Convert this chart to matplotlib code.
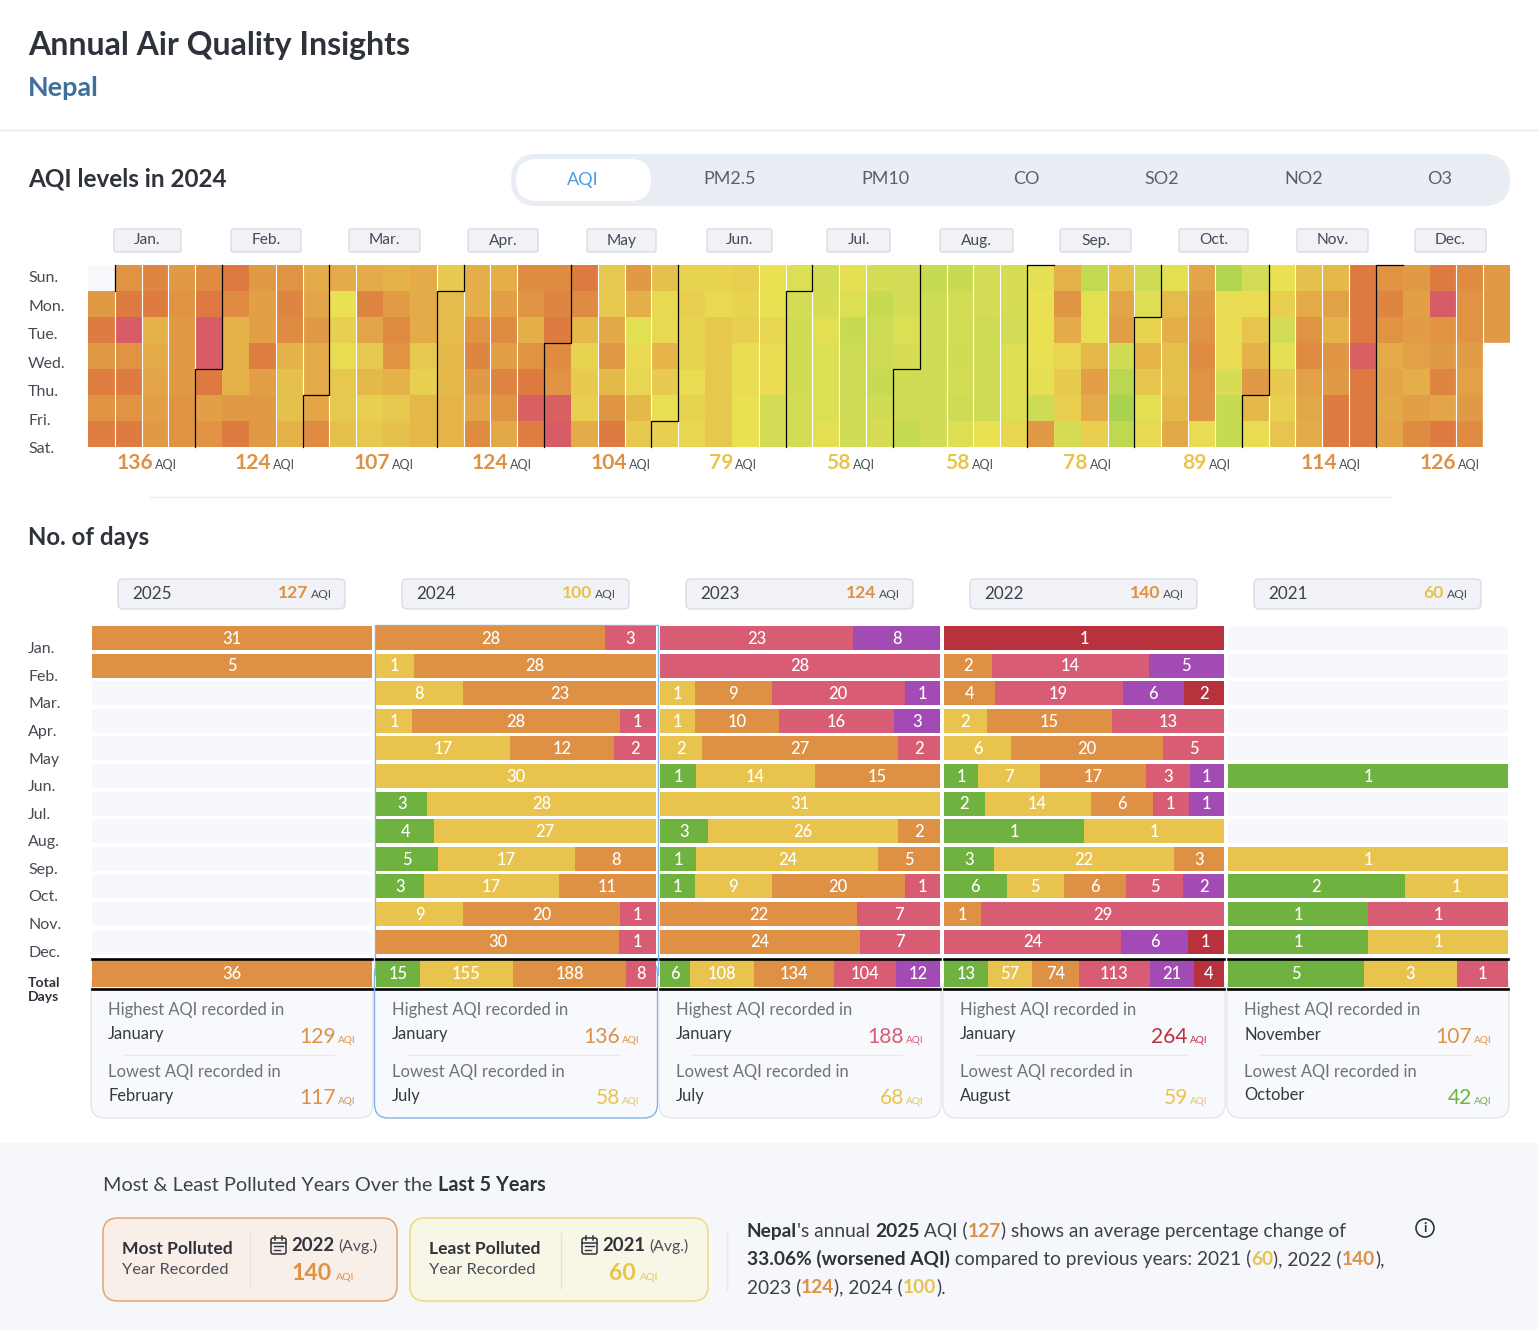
import datetime
import numpy as np
import matplotlib
matplotlib.use("Agg")
import matplotlib.pyplot as plt
from matplotlib.colors import LinearSegmentedColormap, Normalize
from matplotlib.patches import FancyBboxPatch, Rectangle, Circle

plt.rcParams['font.family'] = ['Lato', 'DejaVu Sans']

W, H = 1538, 1330

### data
day_labels = ['Sun.', 'Mon.', 'Tue.', 'Wed.', 'Thu.', 'Fri.', 'Sat.']
month_labels = ['Jan.', 'Feb.', 'Mar.', 'Apr.', 'May', 'Jun.', 'Jul.', 'Aug.', 'Sep.', 'Oct.', 'Nov.', 'Dec.']
month_aqi = [136, 124, 107, 124, 104, 79, 58, 58, 78, 89, 114, 126]
tabs = ['AQI', 'PM2.5', 'PM10', 'CO', 'SO2', 'NO2', 'O3']

# one row per week, Sun..Sat, estimated AQI of the day
week_aqi = [
    [np.nan, 125, 148, 125, 145, 130, 145],
    [130, 148, 175, 130, 148, 130, 148],
    [140, 148, 105, 110, 115, 120, 125],
    [125, 130, 125, 125, 125, 130, 130],
    [135, 150, 175, 175, 150, 120, 130],
    [150, 135, 105, 105, 105, 125, 148],
    [125, 120, 120, 145, 120, 125, 125],
    [130, 140, 135, 105, 95, 95, 105],
    [110, 115, 125, 110, 110, 115, 135],
    [110, 72, 85, 75, 90, 90, 95],
    [110, 140, 115, 90, 100, 85, 90],
    [105, 122, 135, 130, 105, 90, 95],
    [110, 110, 110, 90, 85, 100, 100],
    [88, 98, 98, 100, 100, 102, 102],
    [108, 108, 130, 140, 125, 115, 135],
    [108, 120, 135, 120, 140, 130, 112],
    [135, 130, 108, 130, 148, 172, 145],
    [135, 140, 148, 135, 130, 172, 175],
    [148, 135, 100, 82, 88, 85, 110],
    [90, 90, 112, 125, 100, 128, 148],
    [125, 108, 68, 78, 80, 100, 90],
    [95, 78, 78, 102, 88, 73, 85],
    [82, 85, 82, 82, 75, 82, 80],
    [82, 78, 90, 90, 90, 90, 90],
    [85, 82, 85, 75, 75, 72, 72],
    [72, 72, 80, 75, 75, 60, 60],
    [65, 60, 58, 58, 58, 60, 60],
    [60, 62, 68, 65, 65, 65, 68],
    [70, 65, 52, 55, 55, 55, 58],
    [62, 50, 55, 56, 50, 58, 62],
    [60, 60, 65, 62, 58, 55, 50],
    [50, 56, 56, 55, 58, 58, 58],
    [52, 60, 60, 58, 60, 56, 66],
    [60, 60, 56, 58, 58, 55, 72],
    [62, 62, 60, 66, 66, 66, 80],
    [70, 72, 72, 72, 70, 55, 125],
    [105, 128, 110, 80, 88, 85, 62],
    [48, 68, 70, 100, 120, 110, 85],
    [95, 115, 120, 58, 42, 32, 45],
    [55, 66, 82, 102, 92, 68, 78],
    [68, 98, 108, 95, 95, 100, 112],
    [115, 125, 130, 135, 130, 128, 75],
    [38, 75, 75, 75, 62, 50, 50],
    [60, 75, 92, 105, 125, 100, 75],
    [72, 85, 60, 70, 88, 85, 92],
    [95, 110, 130, 135, 118, 112, 110],
    [100, 118, 105, 128, 125, 148, 148],
    [150, 150, 150, 172, 150, 150, 150],
    [130, 140, 130, 110, 115, 112, 115],
    [125, 120, 122, 118, 108, 120, 135],
    [148, 175, 130, 125, 140, 115, 148],
    [135, 130, 130, 122, 118, 125, 135],
    [125, 125, 125, np.nan, np.nan, np.nan, np.nan],
]

# days per level: good, moderate, sensitive, unhealthy, very unhealthy, hazardous
days_2025 = [[0, 0, 31, 0, 0, 0], [0, 0, 5, 0, 0, 0]] + [[0] * 6] * 10
total_2025 = [0, 0, 36, 0, 0, 0]
days_2024 = [
    [0, 0, 28, 3, 0, 0], [0, 1, 28, 0, 0, 0], [0, 8, 23, 0, 0, 0], [0, 1, 28, 1, 0, 0],
    [0, 17, 12, 2, 0, 0], [0, 30, 0, 0, 0, 0], [3, 28, 0, 0, 0, 0], [4, 27, 0, 0, 0, 0],
    [5, 17, 8, 0, 0, 0], [3, 17, 11, 0, 0, 0], [0, 9, 20, 1, 0, 0], [0, 0, 30, 1, 0, 0],
]
total_2024 = [15, 155, 188, 8, 0, 0]
days_2023 = [
    [0, 0, 0, 23, 8, 0], [0, 0, 0, 28, 0, 0], [0, 1, 9, 20, 1, 0], [0, 1, 10, 16, 3, 0],
    [0, 2, 27, 2, 0, 0], [1, 14, 15, 0, 0, 0], [0, 31, 0, 0, 0, 0], [3, 26, 2, 0, 0, 0],
    [1, 24, 5, 0, 0, 0], [1, 9, 20, 1, 0, 0], [0, 0, 22, 7, 0, 0], [0, 0, 24, 7, 0, 0],
]
total_2023 = [6, 108, 134, 104, 12, 0]
days_2022 = [
    [0, 0, 0, 0, 0, 1], [0, 0, 2, 14, 5, 0], [0, 0, 4, 19, 6, 2], [0, 2, 15, 13, 0, 0],
    [0, 6, 20, 5, 0, 0], [1, 7, 17, 3, 1, 0], [2, 14, 6, 1, 1, 0], [1, 1, 0, 0, 0, 0],
    [3, 22, 3, 0, 0, 0], [6, 5, 6, 5, 2, 0], [0, 0, 1, 29, 0, 0], [0, 0, 0, 24, 6, 1],
]
total_2022 = [13, 57, 74, 113, 21, 4]
days_2021 = [[0] * 6] * 5 + [
    [1, 0, 0, 0, 0, 0], [0] * 6, [0] * 6, [0, 1, 0, 0, 0, 0],
    [2, 1, 0, 0, 0, 0], [1, 0, 0, 1, 0, 0], [1, 1, 0, 0, 0, 0],
]
total_2021 = [5, 3, 0, 1, 0, 0]

years = [2025, 2024, 2023, 2022, 2021]
year_days = [days_2025, days_2024, days_2023, days_2022, days_2021]
year_totals = [total_2025, total_2024, total_2023, total_2022, total_2021]
year_aqi = [127, 100, 124, 140, 60]
high_month = ['January', 'January', 'January', 'January', 'November']
high_aqi = [129, 136, 188, 264, 107]
low_month = ['February', 'July', 'July', 'August', 'October']
low_aqi = [117, 58, 68, 59, 42]

### styles
level_colors = ['#6fb23f', '#e8c44e', '#de9044', '#d85c74', '#a24bb5', '#b8323e']
DARK = '#2e323a'
GREY = '#6d717a'
AQI_DARK = '#4a4e57'
heat_stops = [(30, '#a6d24f'), (50, '#c6da52'), (60, '#d3dd55'), (72, '#e9e052'), (85, '#e8cf50'),
              (100, '#e5b84a'), (115, '#e3a547'), (130, '#df9343'), (148, '#de7b40'),
              (158, '#dd7443'), (175, '#d85c66')]


def level_color(v):
    if v <= 50:
        return level_colors[0]
    if v <= 100:
        return level_colors[1]
    if v <= 150:
        return level_colors[2]
    if v <= 200:
        return level_colors[3]
    return level_colors[5]


def px_box(x0, y0, x1, y1):
    return [x0 / W, 1 - y1 / H, (x1 - x0) / W, (y1 - y0) / H]


fig = plt.figure(figsize=(W / 100, H / 100), dpi=100, facecolor='white')
page = fig.add_axes([0, 0, 1, 1], zorder=0)
page.set_xlim(0, W)
page.set_ylim(H, 0)
page.axis('off')
renderer = fig.canvas.get_renderer()


def txt(x, y, s, size, color=DARK, weight='normal', ha='left', va='center', zorder=5):
    if va == 'center':
        y += 1
    if ha == 'left':
        x -= 0.8
    return page.text(x, y, s, fontsize=size * 0.72, color=color, fontweight=weight,
                     ha=ha, va=va, zorder=zorder)


def text_width(s, size, weight):
    # the bar keeps trailing spaces in the measure
    a = txt(0, 0, s + '|', size, weight=weight)
    b = txt(0, 0, '|', size, weight=weight)
    w = a.get_window_extent(renderer).width - b.get_window_extent(renderer).width
    a.remove()
    b.remove()
    return w


def rich(x, y, parts, size):
    for s, weight, color in parts:
        txt(x, y, s, size, color=color, weight=weight, va='baseline')
        x += text_width(s, size, weight)


def box(x0, y0, x1, y1, fc, ec='none', r=4, lw=1.0, zorder=1):
    page.add_patch(FancyBboxPatch((x0, y0), x1 - x0, y1 - y0, boxstyle='round,pad=0,rounding_size=%g' % r,
                                  fc=fc, ec=ec, lw=lw, zorder=zorder))


### header
txt(29, 44, 'Annual Air Quality Insights', 32, weight='bold')
txt(29, 87, 'Nepal', 27, color='#3f6f9c', weight='bold')
page.plot([0, W], [130, 130], color='#e6e7eb', lw=1)
txt(29, 178, 'AQI levels in 2024', 24.3, weight='bold')

box(511, 154, 1510, 206, '#e9eef5', r=26)
box(516, 159, 651, 201, 'white', r=21, zorder=2)
tab_x = [583, 730, 885, 1026, 1162, 1304, 1440]
for x, s in zip(tab_x, tabs):
    txt(x, 178.5, s, 18, color='#4a9be8' if s == 'AQI' else '#5a5f69', ha='center')

### calendar heatmap
grid = np.ma.masked_invalid(np.array(week_aqi).T)
stops = [(v - heat_stops[0][0]) / (heat_stops[-1][0] - heat_stops[0][0]) for v, c in heat_stops]
cmap = LinearSegmentedColormap.from_list('aqi', list(zip(stops, [c for v, c in heat_stops])))
cmap.set_bad('#f8f9fc')

ax_hm = fig.add_axes(px_box(88, 265, 1510, 447), zorder=2)
ax_hm.pcolormesh(np.arange(54), np.arange(8), grid, cmap=cmap,
                 norm=Normalize(heat_stops[0][0], heat_stops[-1][0]), shading='flat')
ax_hm.set_xlim(0, 53)
ax_hm.set_ylim(7, 0)
ax_hm.axis('off')
ax_hm.add_patch(Rectangle((52, 3), 1, 4, fc='white', ec='white', zorder=2))
for k in [1, 2, 3, 4, 7, 8, 9, 10, 13, 14, 15, 16, 19, 20, 21, 22, 25, 26, 27, 28, 29, 32, 33, 34,
          38, 39, 40, 41, 42, 44, 45, 46, 47, 51, 52]:
    ax_hm.plot([k, k], [0, 7 if k < 52 else 3], color='white', lw=0.8, zorder=3)

# month borders follow the 2024 calendar
first_sunday = datetime.date(2023, 12, 31)
ax_hm.plot([1, 1], [0, 1], color='black', lw=0.9, zorder=4, clip_on=False)
for m in range(2, 13):
    d = datetime.date(2024, m, 1)
    col = (d - first_sunday).days // 7
    row = (d.weekday() + 1) % 7
    ax_hm.plot([col + 1, col + 1, col, col], [0, row, row, 7], color='black', lw=0.9,
               zorder=4, clip_on=False, solid_joinstyle='miter')

day_y = [277, 306, 334, 363, 391, 420, 448]
for y, s in zip(day_y, day_labels):
    txt(29, y, s, 16, color='#454a53')

chip_x0 = [114, 231, 349, 468, 587, 707, 827, 940, 1060, 1179, 1297, 1415]
chip_x1 = [181, 301, 420, 538, 656, 772, 890, 1013, 1131, 1248, 1368, 1486]
aqi_x = [155, 273, 392, 510, 629, 735, 853, 972, 1090, 1209, 1339, 1458]
for x0, x1, ax_x, s, v in zip(chip_x0, chip_x1, aqi_x, month_labels, month_aqi):
    box(x0, 229, x1, 252, '#f1f2f8', ec='#d9dce5', r=2)
    txt((x0 + x1) / 2, 239.5, s, 15.5, color='#454a53', ha='center')
    txt(ax_x - 2, 469, str(v), 21, color=level_color(v), weight='bold', ha='right', va='baseline')
    txt(ax_x + 0.8, 469, 'AQI', 12.5, color=AQI_DARK, va='baseline')
page.plot([150, 1390], [497, 497], color='#eceef1', lw=1)

### no. of days
txt(29, 536.5, 'No. of days', 24, weight='bold')

row_labels = ['Jan.', 'Feb.', 'Mar.', 'Apr.', 'May', 'Jun.', 'Jul.', 'Aug.', 'Sep.', 'Oct.', 'Nov.', 'Dec.']
label_y = [648, 676, 703, 731, 759, 786, 814, 841, 869, 896, 924, 952]
for y, s in zip(label_y, row_labels):
    txt(29, y, s, 16, color='#454a53')
txt(29, 982, 'Total', 14, weight='bold')
txt(29, 996, 'Days', 14, weight='bold')

BASIS = 30 / 280
TOTAL_ROW = 12.14
panel_x = [92, 376, 660, 944, 1228]
chip_left = [118, 402, 686, 970, 1254]


def segment_widths(counts):
    # flex layout: every segment gets a fixed basis, the rest is shared by days
    kept = [(i, c) for i, c in enumerate(counts) if c > 0]
    n, total = len(kept), sum(c for i, c in kept)
    if total <= 100:
        return [(i, c, BASIS + (1 - n * BASIS) * c / total) for i, c in kept]
    # whole-year rows: shares down to a minimum width that fits the number
    mins = {i: (30 if c < 10 else 44) / 280 for i, c in kept}
    fixed = set()
    while True:
        rest = 1 - sum(mins[i] for i in fixed)
        days = sum(c for i, c in kept if i not in fixed)
        low = [i for i, c in kept if i not in fixed and rest * c / days < mins[i]]
        if not low:
            break
        fixed.update(low)
    return [(i, c, mins[i] if i in fixed else rest * c / days) for i, c in kept]


def draw_row(ax, y, counts, height):
    left = 0
    for i, c, w in segment_widths(counts):
        ax.barh(y, w, left=left, height=height, color=level_colors[i], zorder=2)
        ax.text(left + w / 2, y + 0.03, str(c), color='white', fontsize=16.5 * 0.72, ha='center',
                va='center', zorder=3, fontweight='medium')
        left += w


for p, (x0, xc, year, yv, days, tot) in enumerate(zip(panel_x, chip_left, years, year_aqi, year_days, year_totals)):
    x1 = x0 + 280
    if year == 2024:
        box(x0 - 1.5, 960, x1 + 1.5, 1118, '#f8f9fc', ec='#82b4e6', r=14)
        page.plot([x0 - 1.5, x0 - 1.5, x1 + 1.5, x1 + 1.5], [975, 625, 625, 975], color='#82b4e6', lw=1, zorder=2)
    else:
        box(x0 - 1, 975, x1 + 1, 1118, '#f8f9fc', ec='#e4e6ec', r=14)

    box(xc, 579, xc + 227, 609, '#f1f2f8', ec='#d9dce5', r=5)
    txt(xc + 15, 593, str(year), 17, color='#3d4149')
    txt(xc + 190, 598.5, str(yv), 17.5, color=level_color(yv), weight='bold', ha='right', va='baseline')
    txt(xc + 193.8, 598.5, 'AQI', 12, color=AQI_DARK, va='baseline')

    ax = fig.add_axes(px_box(x0, 624.2, x1, 989.9), zorder=3)
    ax.set_xlim(0, 1)
    ax.set_ylim(12.75, -0.5)
    ax.axis('off')
    ax.patch.set_alpha(0)
    ax.barh(np.arange(12), [1] * 12, height=0.87, color='#f7f8fc', zorder=1)
    for m, counts in enumerate(days):
        if sum(counts) > 0:
            draw_row(ax, m, counts, 0.87)
    draw_row(ax, TOTAL_ROW, tot, 1.01)
    ax.plot([0, 1], [11.62, 11.62], color='black', lw=1.9, zorder=4, clip_on=False)
    ax.plot([0, 1], [12.72, 12.72], color='black', lw=1.9, zorder=4, clip_on=False)

    xt = x0 + 17
    txt(xt, 1009.5, 'Highest AQI recorded in', 16.5, color=GREY)
    txt(xt, 1033.5, high_month[p], 16.5, color='#353941')
    txt(x0 + 244, 1043, str(high_aqi[p]), 21, color=level_color(high_aqi[p]), ha='right', va='baseline')
    txt(x0 + 246.8, 1043, 'AQI', 10, color=level_color(high_aqi[p]), va='baseline')
    page.plot([x0 + 32, x0 + 242], [1055, 1055], color='#e6e8ec', lw=1, zorder=2)
    txt(xt, 1070.5, 'Lowest AQI recorded in', 16.5, color=GREY)
    txt(xt, 1094.5, low_month[p], 16.5, color='#353941')
    txt(x0 + 244, 1104, str(low_aqi[p]), 21, color=level_color(low_aqi[p]), ha='right', va='baseline')
    txt(x0 + 246.8, 1104, 'AQI', 10, color=level_color(low_aqi[p]), va='baseline')

### bottom section
page.add_patch(Rectangle((0, 1143), W, H - 1143, fc='#f6f7fb', ec='none', zorder=0))
rich(103.8, 1191, [('Most & Least Polluted Years Over the ', 'normal', '#3d4149'), ('Last 5 Years', 'bold', DARK)], 19.9)


def calendar_icon(x, y):
    box(x, y, x + 15, y + 16, 'none', ec=DARK, r=2, lw=1.1, zorder=3)
    page.plot([x, x + 15], [y + 4.5, y + 4.5], color=DARK, lw=1.1, zorder=3)
    page.plot([x + 3, x + 12], [y + 8, y + 8], color=DARK, lw=1.0, zorder=3)
    page.plot([x + 3, x + 9], [y + 11.5, y + 11.5], color=DARK, lw=1.0, zorder=3)
    page.plot([x + 4, x + 4], [y - 2, y + 2], color=DARK, lw=1.1, zorder=3)
    page.plot([x + 11, x + 11], [y - 2, y + 2], color=DARK, lw=1.1, zorder=3)


cards = [
    (103, 397, '#f8efe8', '#e9a36b', 'Most Polluted', 250, 271, 2022, 140, 314),
    (410, 708, '#f8f6e6', '#efd97a', 'Least Polluted', 561, 582, 2021, 60, 618),
]
for x0, x1, fc, ec, title, div, ic, yr, val, cx in cards:
    box(x0, 1218, x1, 1301, fc, ec=ec, r=15, lw=1.1)
    txt(x0 + 20, 1247.5, title, 17.5, weight='bold')
    txt(x0 + 20, 1269, 'Year Recorded', 16.4, color='#4a4e57')
    page.plot([div, div], [1233, 1288], color='#e4e2da', lw=1, zorder=2)
    calendar_icon(ic, 1238)
    txt(ic + 20.8, 1251, str(yr), 18.5, weight='bold', va='baseline')
    txt(ic + 67.8, 1251, '(Avg.)', 15.8, color='#4a4e57', va='baseline')
    txt(cx + 18, 1280, str(val), 23, color=level_color(val), weight='bold', ha='right', va='baseline')
    txt(cx + 22.8, 1280, 'AQI', 10.5, color=level_color(val), va='baseline')
page.plot([727, 727], [1232, 1290], color='#e6e7ec', lw=1, zorder=2)

ORANGE, YELLOW = level_colors[2], level_colors[1]
TXT = '#3d4149'
rich(747.8, 1237, [('Nepal', 'bold', DARK), ("'s annual ", 'normal', TXT), ('2025', 'bold', DARK), (' AQI (', 'normal', TXT),
                   ('127', 'bold', ORANGE), (') shows an average percentage change of', 'normal', TXT)], 19.2)
rich(747.8, 1265, [('33.06% (worsened AQI)', 'bold', DARK), (' compared to previous years: 2021 (', 'normal', TXT),
                   ('60', 'bold', YELLOW), ('), 2022 (', 'normal', TXT), ('140', 'bold', ORANGE), ('),', 'normal', TXT)], 19.2)
rich(747.8, 1293, [('2023 (', 'normal', TXT), ('124', 'bold', ORANGE), ('), 2024 (', 'normal', TXT),
                   ('100', 'bold', YELLOW), (').', 'normal', TXT)], 19.2)

page.add_patch(Circle((1425, 1228), 9, fc='none', ec=DARK, lw=1.2, zorder=3))
txt(1425, 1227, 'i', 13, color=DARK, ha='center', weight='bold')

fig.savefig('out.png', dpi=100)
